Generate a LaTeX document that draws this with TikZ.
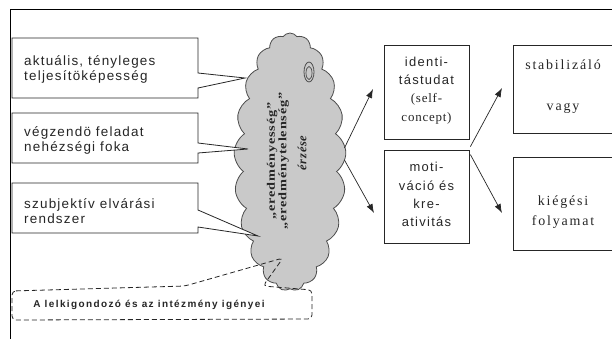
\documentclass[tikz,border=0pt]{standalone}
\usepackage{fontspec}
\setmainfont{Liberation Serif}
\setsansfont{Liberation Sans}
\usetikzlibrary{shapes.symbols,arrows.meta}
\newfontfamily\lsans[LetterSpace=9]{Liberation Sans}
\newfontfamily\msans[LetterSpace=10]{Liberation Sans}
\newfontfamily\bsans[LetterSpace=14]{Liberation Sans}
\newfontfamily\lserif[LetterSpace=13]{Liberation Serif}
\newfontfamily\cserif[LetterSpace=6]{Liberation Serif}
\newfontfamily\cloudserif[LetterSpace=6]{Liberation Serif}
\begin{document}
\begin{tikzpicture}[x=1bp,y=-1bp,
  frameline/.style={line width=0.9pt,black},
  calloutbox/.style={draw=black!85,line width=0.8pt,fill=white,line join=miter},
  lefttext/.style={font={\fontsize{13.5}{15}\lsans},align=left,anchor=west,inner sep=0pt,text=black!85},
  midbox/.style={draw=black!85,line width=0.8pt,fill=white,minimum width=85bp,inner sep=0pt},
  midtext/.style={font={\fontsize{13}{18.3}\msans},align=center,inner sep=0pt,text=black!85},
  rightbox/.style={draw=black!85,line width=0.8pt,fill=white},
  righttext/.style={font={\fontsize{14}{15}\lserif},inner sep=0pt,text=black!85},
  arr/.style={-{Latex[length=9bp,width=6.5bp]},line width=0.7pt,black!85},
  dashbox/.style={draw=black!85,line width=0.8pt,dash pattern=on 5bp off 3bp,rounded corners=4bp},
  cloudshape/.style={cloud,cloud puffs=21,cloud puff arc=110,aspect=0.42,draw=black!70,line width=0.8pt,fill=gray!42,minimum width=112bp,minimum height=258bp,inner sep=0pt}
]
\useasboundingbox (0,0) rectangle (612,339);
\fill[white] (0,0) rectangle (612,339);
% frame
\draw[frameline] (612,9) -- (10,9) -- (10,339);
% cloud
\node[cloudshape] (cloud) at (290,162) {};
\draw[black!70,line width=0.8pt] (309,72) ellipse [x radius=5bp,y radius=10bp];
\draw[black!70,line width=0.7pt] (309,73) ellipse [x radius=3bp,y radius=6.5bp];
\node[rotate=90,align=center,inner sep=0pt,font={\bfseries\fontsize{11.5}{10.5}\cloudserif},text=black!85] (ctext) at (278,161)
  {\scalebox{1.25}[1]{„eredményesség”}\\\scalebox{1.25}[1]{„eredménytelenség”}};
\node[rotate=90,inner sep=0pt,font={\bfseries\itshape\fontsize{12.5}{12}\cloudserif},text=black!85] (ctext2) at (302,153) {érzése};
% left callout boxes
\draw[calloutbox] (12,38) -- (198,38) -- (198,73) -- (245,78) -- (198,88) -- (198,98) -- (12,98) -- cycle;
\node[lefttext] (t1) at (24,69) {aktuális, tényleges\\teljesítöképesség};
\draw[calloutbox] (12,113) -- (198,113) -- (198,143) -- (248,149) -- (198,153) -- (198,163) -- (12,163) -- cycle;
\node[lefttext] (t2) at (24,140) {végzendö feladat\\nehézségi foka};
\draw[calloutbox] (12,183) -- (198,183) -- (198,210) -- (258,236) -- (198,227) -- (198,233) -- (12,233) -- cycle;
\node[lefttext] (t3) at (24,211) {szubjektív elvárási\\rendszer};
% dashed callout
\draw[dashbox] (12,291) -- (185,286) -- (283,258) -- (263,286) -- (312,290) -- (312,319) -- (12,320) -- cycle;
\node[font={\bfseries\fontsize{10}{10}\bsans},inner sep=0pt,text=black!85] (bt) at (149,305) {A lelkigondozó és az intézmény igényei};
% middle boxes
\node[midbox,minimum height=94bp] (id) at (426.5,92) {};
\node[midtext] (idt) at (426.5,90.5) {identi-\\tástudat\\\cserif (self-\\\cserif concept)};
\node[midbox,minimum height=93bp] (mo) at (426.5,196.5) {};
\node[midtext] (mot) at (426.5,194.5) {moti-\\váció és\\kre-\\ativitás};
% right boxes
\draw[rightbox] (616,45) -- (513,45) -- (513,133) -- (616,133);
\node[righttext] (s1) at (563,65) {stabilizáló};
\node[righttext] (s2) at (563,108) {vagy};
\draw[rightbox] (616,157) -- (513,157) -- (513,250) -- (616,250);
\node[righttext] (k1) at (563,202) {kiégési};
\node[righttext] (k2) at (563,222) {folyamat};
% arrows
\coordinate (a1) at (373,89);
\coordinate (a2) at (374,213);
\coordinate (a3) at (502,88);
\coordinate (a4) at (502,213);
\draw[arr] ([yshift=14bp]cloud.east) -- (a1);
\draw[arr] ([yshift=2bp]cloud.east) -- (a2);
\draw[arr] ([xshift=1bp,yshift=3bp]mo.north east) -- (a3);
\draw[arr] ([xshift=1bp,yshift=-5bp]mo.north east) -- (a4);
\end{tikzpicture}
\end{document}
